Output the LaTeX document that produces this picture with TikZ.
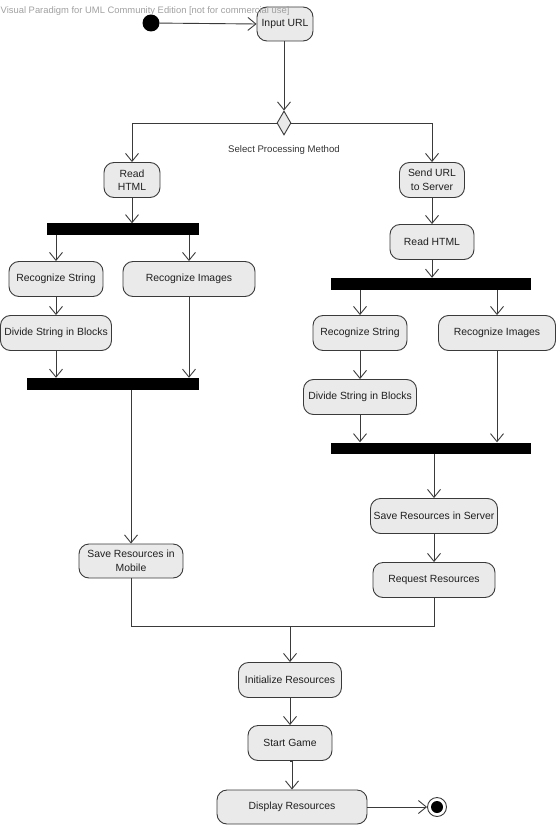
\documentclass[tikz,border=0pt]{standalone}
\usepackage{fontspec}
\setmainfont{Liberation Sans}
\usetikzlibrary{arrows.meta,shapes.geometric}
\definecolor{boxfill}{HTML}{EAEAEA}
\definecolor{boxline}{HTML}{3A3A3A}
\definecolor{wm}{HTML}{A0A0A0}
\begin{document}
\begin{tikzpicture}[x=1pt,y=-1pt,
 act/.style={draw=boxline,fill=boxfill,rounded corners=10pt,line width=0.9pt,align=center,inner sep=0pt,
   minimum height=35pt,font=\fontsize{10.4}{13.5}\selectfont,text=black!88},
 bar/.style={fill=black,draw=none,inner sep=0pt,minimum height=11pt},
 flow/.style={draw=boxline,line width=0.9pt},
 arr/.style={flow,-{Straight Barb[length=8pt,width=13pt,line width=0.9pt]}},
]
\useasboundingbox (0,0) rectangle (556,834);

% start
\node[circle,fill=black,inner sep=0pt,minimum size=17pt] (start) at (151,23) {};
\node[act,minimum width=56pt,minimum height=34pt] (inp) at (285,24) {Input URL};
\node[diamond,draw=boxline,fill=boxfill,line width=0.9pt,inner sep=0pt,minimum width=14pt,minimum height=24pt] (dia) at (284,123) {};
\node[inner sep=0pt,font=\fontsize{9.6}{12}\selectfont,text=black!80] (lbl) at (284,150) {Select Processing Method};

% left branch
\node[act,minimum width=56pt] (rhL) at (132,180) {Read\\HTML};
\node[bar,minimum width=152pt] (forkL) at (123,229) {};
\node[act,minimum width=94pt] (rsL) at (56,279) {Recognize String};
\node[act,minimum width=132pt] (riL) at (189,279) {Recognize Images};
\node[act,minimum width=111pt] (dsL) at (56,333) {Divide String in Blocks};
\node[bar,minimum width=172pt,minimum height=12pt] (joinL) at (113,384) {};
\node[act,minimum width=104pt,minimum height=34pt] (saveM) at (131,561) {Save Resources in\\Mobile};

% right branch
\node[act,minimum width=65pt] (su) at (432,180) {Send URL\\to Server};
\node[act,minimum width=84pt] (rhR) at (432,242) {Read HTML};
\node[bar,minimum width=200pt,minimum height=12pt] (forkR) at (431,284) {};
\node[act,minimum width=94pt] (rsR) at (360,333) {Recognize String};
\node[act,minimum width=117pt] (riR) at (497,333) {Recognize Images};
\node[act,minimum width=113pt] (dsR) at (360,397) {Divide String in Blocks};
\node[bar,minimum width=200pt] (joinR) at (431,448) {};
\node[act,minimum width=127pt] (saveS) at (434,516) {Save Resources in Server};
\node[act,minimum width=122pt] (req) at (434,580) {Request Resources};

% merge and tail
\coordinate (m) at (292,626);
\node[act,minimum width=103pt] (init) at (290,680) {Initialize Resources};
\node[act,minimum width=84pt] (sg) at (290,743) {Start Game};
\node[act,minimum width=150pt,minimum height=34pt] (disp) at (292,807) {Display Resources};
\node[circle,draw=boxline,fill=white,line width=0.9pt,inner sep=0pt,minimum size=19pt] (fin) at (437,807) {};
\node[circle,fill=black,inner sep=0pt,minimum size=12pt] (finin) at (fin.center) {};

% connectors
\draw[arr] (start) -- (inp.west);
\draw[arr] (inp.south -| dia.north) -- (dia.north);
\draw[arr] (dia.west) -| (rhL.north);
\draw[arr] (dia.east) -| (su.north);

\draw[arr] (rhL.south) -- (rhL.south |- forkL.north);
\draw[arr] (rsL.north |- forkL.south) -- (rsL.north);
\draw[arr] (riL.north |- forkL.south) -- (riL.north);
\draw[arr] (rsL.south) -- (dsL.north);
\draw[arr] (dsL.south) -- (dsL.south |- joinL.north);
\draw[arr] (riL.south) -- (riL.south |- joinL.north);
\draw[arr] (saveM.north |- joinL.south) -- (saveM.north);

\draw[arr] (su.south) -- (rhR.north);
\draw[arr] (rhR.south) -- (rhR.south |- forkR.north);
\draw[arr] (rsR.north |- forkR.south) -- (rsR.north);
\draw[arr] (riR.north |- forkR.south) -- (riR.north);
\draw[arr] (rsR.south) -- (dsR.north);
\draw[arr] (dsR.south) -- (dsR.south |- joinR.north);
\draw[arr] (riR.south) -- (riR.south |- joinR.north);
\draw[arr] (saveS.north |- joinR.south) -- (saveS.north);
\draw[arr] (saveS.south) -- (req.north);

\draw[flow] (saveM.south) -- (saveM.south |- m) -- (req.south |- m) -- (req.south);
\draw[arr] (init.north |- m) -- (init.north);
\draw[arr] (init.south) -- (sg.north);
\draw[arr] (sg.south) -- (sg.south -| disp.north) -- (disp.north);
\draw[arr] (disp.east) -- (fin.west);

% watermark (drawn on top)
\node[anchor=base west,inner sep=0pt,text=wm,font=\fontsize{9.4}{11}\selectfont] (wmk) at (0.5,14)
  {Visual Paradigm for UML Community Edition [not for commercial use]};
\end{tikzpicture}
\end{document}
